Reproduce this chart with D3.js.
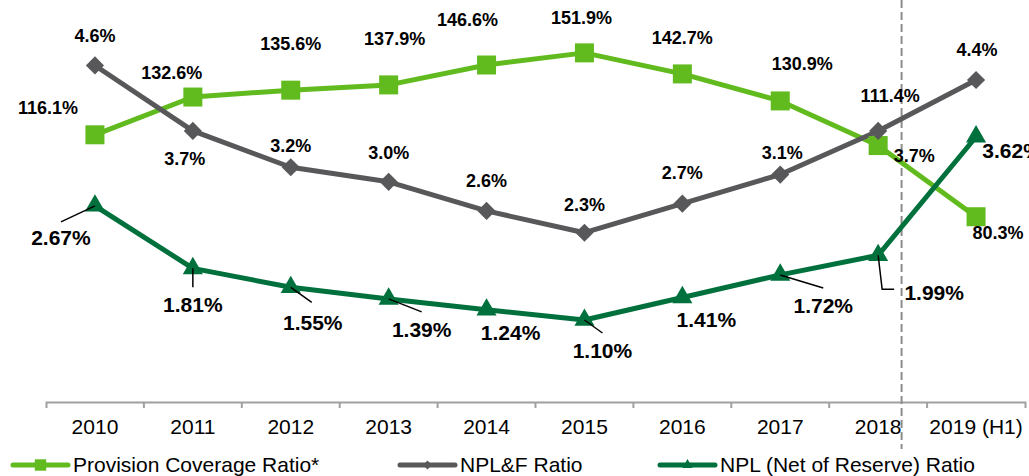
<!DOCTYPE html>
<html>
<head>
<meta charset="utf-8">
<script src="https://cdn.jsdelivr.net/npm/d3@7"></script>
<style>
  body { margin: 0; background: #fff; }
  svg { display: block; font-family: "Liberation Sans", Arial, sans-serif; }
</style>
</head>
<body>
<div id="chart"></div>
<script>
// Data
var years = ["2010", "2011", "2012", "2013", "2014", "2015", "2016", "2017", "2018", "2019 (H1)"];
var provisionCoverage = [116.1, 132.6, 135.6, 137.9, 146.6, 151.9, 142.7, 130.9, 111.4, 80.3];
var nplfRatio = [4.6, 3.7, 3.2, 3.0, 2.6, 2.3, 2.7, 3.1, 3.7, 4.4];
var nplNetRatio = [2.67, 1.81, 1.55, 1.39, 1.24, 1.10, 1.41, 1.72, 1.99, 3.62];

// Label nudges [dx, dy] relative to each marker (layout only)
var provisionLabelPos = [[-47, -27], [-21, -25], [0, -47], [6, -46], [-19, -45], [-3, -35], [0, -36], [22, -37], [12, -50], [22, 16]];
var nplfLabelPos = [[0, -30], [-8, 28], [0, -22], [0, -29], [0, -30], [0, -28], [0, -31], [2, -22], [36, 25], [1, -30]];
var netLabelPos = [[-34, 32], [0, 36], [22, 35], [33, 31], [24, 23], [18, 30], [24, 22], [43, 31], [56, 37], [36, 14]];
// Leader lines for NPL (net) labels, points relative to the marker
var netLeaders = [
  [[0, 0], [-34, 16]],
  [[0, 0], [0, 19]],
  [[0, 0], [21, 15]],
  [[0, 0], [33, 13]],
  null,
  [[0, 0], [18, 13]],
  null,
  [[0, 0], [43, 13]],
  [[0, 0], [4, 34], [16, 34]],
  null
];

var width = 1029;
var height = 476;

var colorProvision = "#62bb1e";
var colorNplf = "#58585a";
var colorNet = "#00703c";

var svg = d3.select("#chart")
  .append("svg")
  .attr("width", width)
  .attr("height", height);

// Scales
var x = d3.scaleBand()
  .domain(years)
  .range([46, 1025])
  .padding(0);

var cx = function(d) { return x(d) + x.bandwidth() / 2; };

var yLeft = d3.scaleLinear().domain([0, 175]).range([400.5, 0]);
var yRight = d3.scaleLinear().domain([0, 5.5]).range([400, 0]);

// X axis
var axisY = 402;
var axis = svg.append("g")
  .attr("transform", "translate(0," + axisY + ")")
  .call(d3.axisBottom(x).tickSizeInner(0).tickSizeOuter(6).tickPadding(17));

axis.select(".domain").attr("stroke", "#a0a0a0").attr("stroke-width", 2);
axis.selectAll("text")
  .style("font-family", "'Liberation Sans', Arial, sans-serif")
  .style("font-size", "21px")
  .attr("fill", "#000");

// ticks at band boundaries
axis.selectAll(".bound")
  .data(years.slice(1))
  .enter().append("line")
  .attr("class", "bound")
  .attr("x1", function(d) { return x(d); })
  .attr("x2", function(d) { return x(d); })
  .attr("y1", 0)
  .attr("y2", 6)
  .attr("stroke", "#a0a0a0")
  .attr("stroke-width", 2);

// dashed separator before H1 2019
var sepX = x("2019 (H1)") - 25.5;
svg.append("line")
  .attr("x1", sepX).attr("x2", sepX)
  .attr("y1", 0).attr("y2", 449)
  .attr("stroke", "#8c8c8c")
  .attr("stroke-width", 2)
  .attr("stroke-dasharray", "8,4");

function drawSeries(values, yScale, color) {
  var line = d3.line()
    .x(function(d, i) { return cx(years[i]); })
    .y(function(d) { return yScale(d); });

  svg.append("path")
    .datum(values)
    .attr("fill", "none")
    .attr("stroke", color)
    .attr("stroke-width", 5)
    .attr("stroke-linejoin", "round")
    .attr("d", line);
}

// Lines
drawSeries(provisionCoverage, yLeft, colorProvision);
drawSeries(nplfRatio, yRight, colorNplf);

// Provision markers (squares)
svg.selectAll(".sq")
  .data(provisionCoverage)
  .enter().append("rect")
  .attr("class", "sq")
  .attr("x", function(d, i) { return cx(years[i]) - 9.5; })
  .attr("y", function(d) { return yLeft(d) - 9.5; })
  .attr("width", 19)
  .attr("height", 19)
  .attr("fill", colorProvision);

// NPL&F markers (diamonds)
svg.selectAll(".dm")
  .data(nplfRatio)
  .enter().append("path")
  .attr("class", "dm")
  .attr("d", d3.symbol(d3.symbolSquare, 165))
  .attr("transform", function(d, i) {
    return "translate(" + cx(years[i]) + "," + yRight(d) + ") rotate(45)";
  })
  .attr("fill", colorNplf);

drawSeries(nplNetRatio, yRight, colorNet);

// NPL net markers (triangles)
svg.selectAll(".tri")
  .data(nplNetRatio)
  .enter().append("path")
  .attr("class", "tri")
  .attr("d", d3.symbol(d3.symbolTriangle, 175))
  .attr("transform", function(d, i) {
    return "translate(" + cx(years[i]) + "," + yRight(d) + ")";
  })
  .attr("fill", colorNet);

// Leader lines
svg.selectAll(".leader")
  .data(nplNetRatio)
  .enter().append("polyline")
  .attr("class", "leader")
  .attr("points", function(d, i) {
    if (!netLeaders[i]) return "";
    var px = cx(years[i]), py = yRight(d);
    return netLeaders[i].map(function(p) { return (px + p[0]) + "," + (py + p[1]); }).join(" ");
  })
  .attr("fill", "none")
  .attr("stroke", "#000")
  .attr("stroke-width", 1.5);

// Value labels
function drawLabels(values, yScale, pos, fmt, size) {
  svg.append("g").selectAll("text")
    .data(values)
    .enter().append("text")
    .attr("x", function(d, i) { return cx(years[i]) + pos[i][0]; })
    .attr("y", function(d, i) { return yScale(d) + pos[i][1]; })
    .attr("dy", "0.36em")
    .attr("text-anchor", "middle")
    .style("font-size", size + "px")
    .style("font-weight", "bold")
    .attr("fill", "#000")
    .text(fmt);
}

drawLabels(provisionCoverage, yLeft, provisionLabelPos, function(d) { return d.toFixed(1) + "%"; }, 18);
drawLabels(nplfRatio, yRight, nplfLabelPos, function(d) { return d.toFixed(1) + "%"; }, 18);
drawLabels(nplNetRatio, yRight, netLabelPos, function(d) { return d.toFixed(2) + "%"; }, 21);

// Legend
var legendItems = [
  { name: "Provision Coverage Ratio*", color: colorProvision, x: 13, shape: "square" },
  { name: "NPL&F Ratio", color: colorNplf, x: 400, shape: "diamond" },
  { name: "NPL (Net of Reserve) Ratio", color: colorNet, x: 660, shape: "triangle" }
];
var legendY = 465;

var legend = svg.selectAll(".legend")
  .data(legendItems)
  .enter().append("g")
  .attr("class", "legend")
  .attr("transform", function(d) { return "translate(" + d.x + "," + legendY + ")"; });

legend.append("line")
  .attr("x1", 0).attr("x2", 55)
  .attr("y1", 0).attr("y2", 0)
  .attr("stroke", function(d) { return d.color; })
  .attr("stroke-width", 5)
  .attr("stroke-linecap", "round");

legend.append("path")
  .attr("d", function(d) {
    if (d.shape === "square") return d3.symbol(d3.symbolSquare, 130)();
    if (d.shape === "diamond") return d3.symbol(d3.symbolSquare, 40)();
    return d3.symbol(d3.symbolTriangle, 45)();
  })
  .attr("transform", function(d) {
    return "translate(27.5,0)" + (d.shape === "diamond" ? " rotate(45)" : "");
  })
  .attr("fill", function(d) { return d.color; });

legend.append("text")
  .attr("x", 60)
  .attr("y", 0)
  .attr("dy", "0.35em")
  .style("font-size", "21px")
  .attr("fill", "#000")
  .text(function(d) { return d.name; });
</script>
</body>
</html>
